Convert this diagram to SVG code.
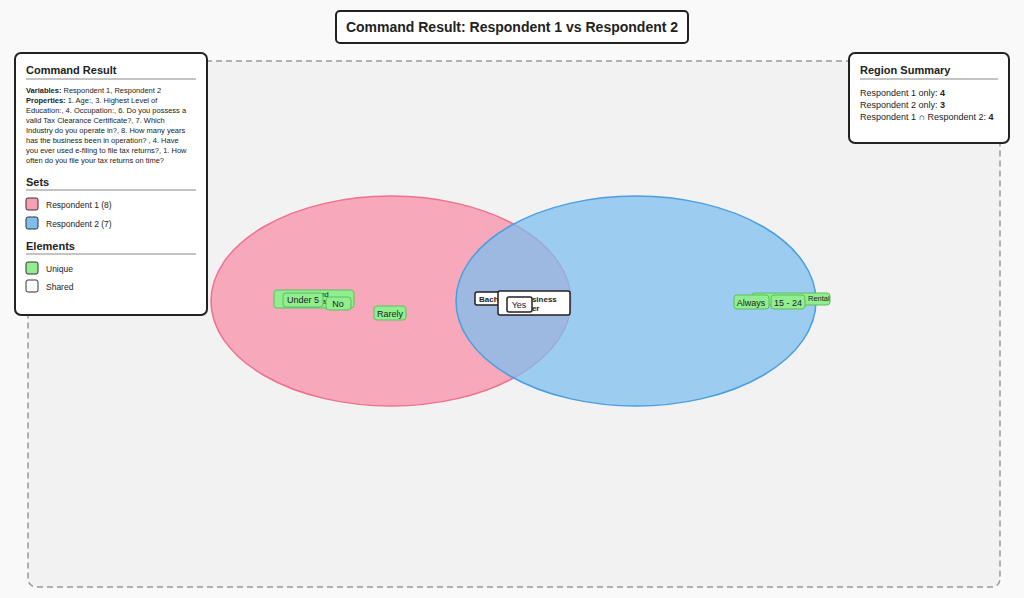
<svg xmlns="http://www.w3.org/2000/svg" width="1024" height="598" viewBox="0 0 1024 598">
<style>
text{font-family:"Liberation Sans",Arial,sans-serif;fill:#222}
.panel{fill:#fff;stroke:#222;stroke-width:2}
.u{fill:#90ee90;stroke:#5cbf5c;stroke-width:1}
.s{fill:#fff;stroke:#222;stroke-width:1.5}
.t9{font-size:9px}
.t7{font-size:7.5px}
.h{font-size:11px;font-weight:bold}
</style>
<rect x="0" y="0" width="1024" height="598" fill="#f9f9f9"/>
<rect x="28" y="61" width="972" height="526" rx="8" fill="#f2f2f2" stroke="#999" stroke-width="1.5" stroke-dasharray="6,4"/>
<g id="title"><rect class="panel" x="336" y="11" width="352" height="32" rx="4"/>
<text x="512" y="32" text-anchor="middle" font-size="14" font-weight="bold">Command Result: Respondent 1 vs Respondent 2</text></g>
<g id="sets">
<ellipse cx="391" cy="301" rx="180" ry="105" fill="#f7a0b4" fill-opacity="0.9" stroke="#f0708f" stroke-width="1.5"/>
<ellipse cx="636" cy="301" rx="180" ry="105" fill="#7fbfef" fill-opacity="0.75" stroke="#4a9fe0" stroke-width="1.5"/>
</g>
<g id="r1elems">
<rect class="u" x="274" y="290" width="80" height="18" rx="3"/>
<text class="t7" x="310" y="297">n and</text><text class="t7" x="322" y="304">a</text>
<rect class="u" x="283" y="293" width="40" height="14" rx="3"/><text class="t9" x="303" y="303" text-anchor="middle">Under 5</text>
<rect class="u" x="326" y="297" width="25" height="13" rx="3"/><text class="t9" x="338" y="307" text-anchor="middle">No</text>
<rect class="u" x="374" y="306" width="32" height="14" rx="3"/><text class="t9" x="390" y="317" text-anchor="middle">Rarely</text>
</g>
<g id="shared">
<rect class="s" x="475" y="292" width="30" height="13" rx="2"/><text x="479" y="302" font-size="8" font-weight="bold">Bach</text>
<rect class="s" x="498" y="291" width="72" height="24" rx="2"/><text x="527" y="302" font-size="8" font-weight="bold">usiness</text><text x="527" y="311" font-size="8" font-weight="bold">ner</text>
<rect class="s" x="507" y="297" width="25" height="15" rx="2"/><text class="t9" x="519" y="308" text-anchor="middle">Yes</text>
</g>
<g id="r2elems">
<rect class="u" x="752" y="293" width="78" height="12" rx="3"/><text class="t7" x="808" y="301">Rental</text>
<rect class="u" x="734" y="295" width="35" height="14" rx="3"/><text class="t9" x="751" y="306" text-anchor="middle">Always</text>
<rect class="u" x="771" y="295" width="34" height="14" rx="3"/><text class="t9" x="788" y="306" text-anchor="middle">15 - 24</text>
</g>
<g id="legend">
<rect class="panel" x="15" y="53" width="192" height="262" rx="6"/>
<text class="h" x="26" y="74">Command Result</text><line x1="26" y1="79" x2="196" y2="79" stroke="#888"/>
<g font-size="7.5">
<text x="26" y="93"><tspan font-weight="bold">Variables:</tspan> Respondent 1, Respondent 2</text>
<text x="26" y="103"><tspan font-weight="bold">Properties:</tspan> 1. Age:, 3. Highest Level of</text>
<text x="26" y="113">Education:, 4. Occupation:, 6. Do you possess a</text>
<text x="26" y="123">valid Tax Clearance Certificate?, 7. Which</text>
<text x="26" y="133">Industry do you operate in?, 8. How many years</text>
<text x="26" y="143">has the business been in operation? , 4. Have</text>
<text x="26" y="153">you ever used e-filing to file tax returns?, 1. How</text>
<text x="26" y="163">often do you file your tax returns on time?</text>
</g>
<text class="h" x="26" y="186">Sets</text><line x1="26" y1="190" x2="196" y2="190" stroke="#888"/>
<rect x="26" y="198" width="12" height="12" rx="2" fill="#f7a0b4" stroke="#333"/><text x="46" y="208" font-size="8.5">Respondent 1 (8)</text>
<rect x="26" y="217" width="12" height="12" rx="2" fill="#7fbfef" stroke="#333"/><text x="46" y="227" font-size="8.5">Respondent 2 (7)</text>
<text class="h" x="26" y="250">Elements</text><line x1="26" y1="254" x2="196" y2="254" stroke="#888"/>
<rect x="26" y="262" width="12" height="12" rx="2" fill="#90ee90" stroke="#333"/><text x="46" y="272" font-size="8.5">Unique</text>
<rect x="26" y="280" width="12" height="12" rx="2" fill="#fff" stroke="#333"/><text x="46" y="290" font-size="8.5">Shared</text>
</g>
<g id="summary">
<rect class="panel" x="849" y="53" width="160" height="90" rx="6"/>
<text class="h" x="860" y="74">Region Summary</text><line x1="860" y1="79" x2="998" y2="79" stroke="#888"/>
<g font-size="9">
<text x="860" y="96">Respondent 1 only: <tspan font-weight="bold">4</tspan></text>
<text x="860" y="108">Respondent 2 only: <tspan font-weight="bold">3</tspan></text>
<text x="860" y="120">Respondent 1 ∩ Respondent 2: <tspan font-weight="bold">4</tspan></text>
</g></g>
<g id="connectors"/>
</svg>
